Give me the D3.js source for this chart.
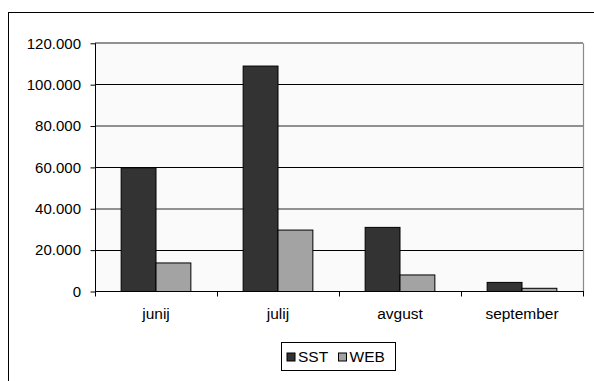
<!DOCTYPE html>
<html>
<head>
<meta charset="utf-8">
<script src="https://cdn.jsdelivr.net/npm/d3@7"></script>
<style>
  html, body { margin: 0; padding: 0; background: #fff; }
  svg { display: block; font-family: "Liberation Sans", Arial, sans-serif; }
</style>
</head>
<body>
<svg id="chart" width="594" height="381"></svg>
<script>
// Monthly counts per source
const months = ["junij", "julij", "avgust", "september"];
const seriesNames = ["SST", "WEB"];
const sstValues = [59800, 109000, 31000, 4400];
const webValues = [13800, 29700, 8000, 1550];
const yTicks = [0, 20000, 40000, 60000, 80000, 100000, 120000];
const seriesColors = ["#333333", "#a3a3a3"];

const svg = d3.select("#chart");
const W = 594, H = 381;

// outer frame (runs past the right and bottom edges)
svg.append("rect")
  .attr("x", 8.5).attr("y", 12.5)
  .attr("width", W).attr("height", H)
  .attr("fill", "#fff").attr("stroke", "#000").attr("stroke-width", 1);

const plot = { left: 95, right: 583, top: 43.3, bottom: 291.5 };

const x = d3.scaleBand().domain(months).range([plot.left, plot.right]).paddingInner(0).paddingOuter(0);
const y = d3.scaleLinear().domain([0, 120000]).range([plot.bottom, plot.top]);
const inner = d3.scaleBand().domain(seriesNames).range([0, x.bandwidth()]).paddingOuter(0.75).paddingInner(0);

// plot background
svg.append("rect")
  .attr("x", plot.left).attr("y", plot.top)
  .attr("width", plot.right - plot.left).attr("height", plot.bottom - plot.top)
  .attr("fill", "#fafafa");

// right border of plot area
svg.append("line")
  .attr("x1", plot.right + 0.5).attr("x2", plot.right + 0.5)
  .attr("y1", plot.top).attr("y2", plot.bottom)
  .attr("stroke", "#8a8a8a").attr("stroke-width", 1.2);

// gridlines: alternate crisp black and softer grey rules
const gridY = (d, i) => (i % 2 === 1 ? Math.floor(y(d)) + 0.5 : Math.round(y(d)));
svg.append("g").selectAll("line")
  .data(yTicks.filter(d => d > 0).reverse())
  .join("line")
  .attr("x1", plot.left).attr("x2", plot.right)
  .attr("y1", gridY).attr("y2", gridY)
  .attr("stroke", (d, i) => (i % 2 === 1 ? "#000" : "#6e6e6e"))
  .attr("stroke-width", (d, i) => (i % 2 === 1 ? 1 : 1.4));

// bars
const data = months.map((m, i) => ({ month: m, values: [sstValues[i], webValues[i]] }));
svg.append("g").selectAll("g")
  .data(data)
  .join("g")
  .attr("transform", d => `translate(${x(d.month)},0)`)
  .selectAll("rect")
  .data(d => d.values.map((v, j) => ({ key: seriesNames[j], value: v, color: seriesColors[j] })))
  .join("rect")
  .attr("x", d => inner(d.key))
  .attr("width", inner.bandwidth())
  .attr("y", d => y(d.value))
  .attr("height", d => y(0) - y(d.value))
  .attr("fill", d => d.color)
  .attr("stroke", "#000")
  .attr("stroke-width", 1);

// y axis
const yAxis = d3.axisLeft(y)
  .tickValues(yTicks)
  .tickSize(5)
  .tickPadding(9)
  .tickFormat(d => d === 0 ? "0" : d3.format(",.3f")(d / 1000).replace(",", ""));
const gy = svg.append("g").attr("transform", `translate(${plot.left},0)`).call(yAxis);
gy.select(".domain").attr("d", `M0.5,${plot.top}V${plot.bottom}`).attr("stroke", "#000");
gy.selectAll(".tick line").attr("stroke", "#000").attr("x1", 0.5).attr("x2", -4.5);
gy.selectAll(".tick text").attr("font-size", 15).attr("fill", "#000")
  .attr("font-family", "'Liberation Sans', Arial, sans-serif");

// x axis: ticks between categories
const gx = svg.append("g").attr("transform", `translate(0,${plot.bottom})`);
gx.append("line")
  .attr("x1", plot.left).attr("x2", plot.right + 1)
  .attr("y1", 0).attr("y2", 0)
  .attr("stroke", "#000");
const edges = months.map(m => x(m)).concat([plot.right]);
gx.selectAll("line.sep")
  .data(edges)
  .join("line")
  .attr("class", "sep")
  .attr("x1", d => Math.round(d) + 0.5).attr("x2", d => Math.round(d) + 0.5)
  .attr("y1", 0).attr("y2", 5)
  .attr("stroke", "#000");
gx.selectAll("text")
  .data(months)
  .join("text")
  .attr("x", d => x(d) + x.bandwidth() / 2)
  .attr("y", 27)
  .attr("text-anchor", "middle")
  .attr("font-size", 15.5)
  .attr("fill", "#000")
  .text(d => d);

// legend
const legend = svg.append("g").attr("transform", "translate(281.5,342.5)");
legend.append("rect")
  .attr("width", 114).attr("height", 28)
  .attr("fill", "#fff").attr("stroke", "#000");
const legendItems = [
  { name: seriesNames[0], color: seriesColors[0], sx: 5.5, tx: 16.5 },
  { name: seriesNames[1], color: seriesColors[1], sx: 57, tx: 68 }
];
legend.selectAll("g.item")
  .data(legendItems)
  .join("g")
  .attr("class", "item")
  .each(function (d) {
    const g = d3.select(this);
    g.append("rect")
      .attr("x", d.sx).attr("y", 10.5)
      .attr("width", 8).attr("height", 8)
      .attr("fill", d.color).attr("stroke", "#000");
    g.append("text")
      .attr("x", d.tx).attr("y", 19.5)
      .attr("font-size", 15.5)
      .attr("fill", "#000")
      .text(d.name);
  });
</script>
</body>
</html>
